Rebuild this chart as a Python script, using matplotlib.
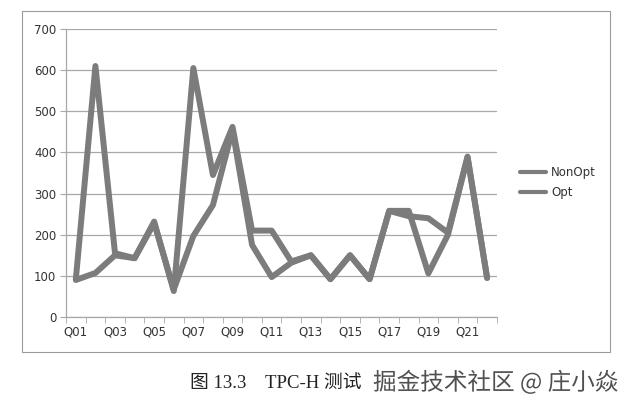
import matplotlib.pyplot as plt
import matplotlib.patheffects as pe
from matplotlib.patches import Rectangle

plt.rcParams['font.family'] = ['DejaVu Sans', 'Noto Sans CJK SC']

# Data
queries = ['Q%02d' % i for i in range(1, 23)]
non_opt = [92, 610, 155, 143, 232, 63, 605, 345, 462, 210, 210, 135,
           150, 92, 150, 92, 258, 245, 240, 205, 390, 95]
opt = [90, 107, 150, 143, 228, 67, 197, 272, 455, 175, 97, 132,
       150, 92, 150, 92, 258, 258, 106, 200, 388, 95]
y_ticks = [0, 100, 200, 300, 400, 500, 600, 700]

line_color = '#7c7c7c'
grid_color = '#a8a8a8'
text_color = '#333333'

fig = plt.figure(figsize=(6.29, 4.08), dpi=100)
fig.patch.set_facecolor('white')

# outer chart frame
fig.patches.append(Rectangle((0.035, 0.137), 0.935, 0.836, transform=fig.transFigure,
                             fill=False, edgecolor='#9a9a9a', linewidth=0.8))

ax = fig.add_axes([0.105, 0.223, 0.685, 0.706])
x = list(range(len(queries)))
ax.plot(x, non_opt, color=line_color, linewidth=4.3, solid_joinstyle='round',
        solid_capstyle='round', label='NonOpt')
ax.plot(x, opt, color=line_color, linewidth=4.3, solid_joinstyle='round',
        solid_capstyle='round', label='Opt')

ax.set_xlim(-0.5, len(queries) - 0.5)
ax.set_ylim(0, 700)
ax.set_yticks(y_ticks)
ax.set_yticklabels([str(v) for v in y_ticks], color=text_color, fontsize=8.5)
ax.set_xticks(x[::2])
ax.set_xticklabels(queries[::2], color=text_color, fontsize=8.5)
ax.set_xticks([i - 0.5 for i in range(len(queries) + 1)], minor=True)
ax.tick_params(axis='x', which='major', length=0, pad=6)
ax.tick_params(axis='x', which='minor', length=4, color=grid_color, direction='out')
ax.tick_params(axis='y', length=4, color=grid_color, pad=3)
ax.grid(True, axis='y', color=grid_color, linewidth=0.9)
ax.set_axisbelow(True)
for side in ['top', 'right']:
    ax.spines[side].set_visible(False)
for side in ['left', 'bottom']:
    ax.spines[side].set_color(grid_color)
    ax.spines[side].set_linewidth(0.9)

leg = ax.legend(loc='center left', bbox_to_anchor=(1.03, 0.467), frameon=False,
                fontsize=8.5, handlelength=2.2, handletextpad=0.4, labelspacing=0.6)
for t in leg.get_texts():
    t.set_color(text_color)
for h in leg.get_lines():
    h.set_linewidth(3)

# caption (the rest of it is hidden under the watermark in the scan) and watermark
fig.text(0.302, 0.061, '图 13.3    TPC-H 测试', fontsize=13.5, color='#222222',
         family=['Liberation Serif', 'Noto Sans CJK SC'], va='center')
fig.text(0.593, 0.063, '掘金技术社区 @ 庄小焱', fontsize=17, color='#505050',
         family=['Noto Sans CJK SC', 'DejaVu Sans'], va='center',
         path_effects=[pe.withStroke(linewidth=2.5, foreground='white')])

plt.savefig('out.png', dpi=100)
